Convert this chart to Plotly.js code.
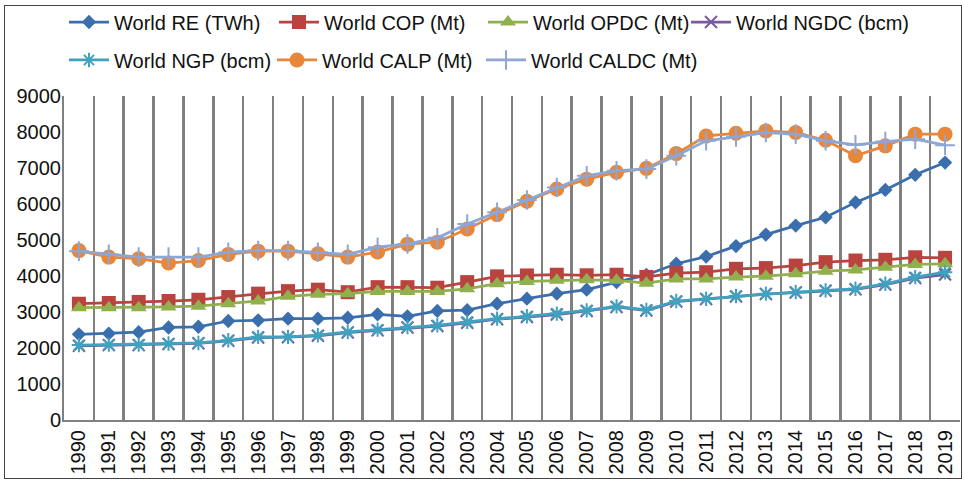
<!DOCTYPE html>
<html><head><meta charset="utf-8">
<script src="https://cdn.plot.ly/plotly-3.0.1.min.js"></script>
<style>
body{margin:0;padding:0;background:#fff;}
#chart{position:absolute;left:0;top:0;width:964px;height:483px;}
#frame{position:absolute;left:4px;top:5px;width:956px;height:472px;border:1px solid #444;pointer-events:none;}
</style></head>
<body>
<div id="chart"></div>
<div id="frame"></div>
<script>
const years = ['1990','1991','1992','1993','1994','1995','1996','1997','1998','1999','2000','2001','2002','2003','2004','2005','2006','2007','2008','2009','2010','2011','2012','2013','2014','2015','2016','2017','2018','2019'];
const worldRE = [2380,2400,2440,2570,2590,2750,2770,2815,2815,2840,2935,2880,3030,3050,3230,3370,3510,3620,3830,4030,4340,4540,4830,5150,5400,5630,6045,6390,6810,7150];
const worldCOP = [3230,3250,3280,3305,3340,3415,3510,3580,3620,3550,3690,3690,3675,3830,3990,4015,4035,4020,4035,3975,4080,4105,4200,4220,4290,4385,4430,4450,4520,4505];
const worldOPDC = [3120,3120,3120,3140,3160,3230,3305,3435,3490,3510,3570,3570,3570,3645,3785,3850,3880,3895,3880,3800,3920,3920,3970,3995,4060,4135,4170,4245,4320,4340];
const worldNGDC = [2060,2080,2080,2110,2130,2200,2290,2300,2340,2430,2490,2570,2610,2700,2800,2860,2930,3030,3140,3040,3290,3360,3430,3500,3540,3590,3630,3760,3940,4040];
const worldNGP = [2080,2095,2095,2125,2140,2215,2310,2310,2355,2445,2510,2585,2630,2725,2815,2880,2955,3045,3155,3060,3305,3370,3445,3510,3555,3600,3645,3785,3970,4105];
const worldCALP = [4705,4525,4480,4360,4430,4600,4690,4690,4615,4525,4665,4885,4940,5305,5705,6075,6415,6690,6880,6990,7400,7890,7965,8030,7985,7770,7340,7615,7940,7940];
const worldCALDC = [4690,4600,4525,4525,4525,4660,4705,4705,4660,4600,4800,4890,5060,5445,5770,6110,6460,6785,6925,6970,7340,7755,7865,7985,7940,7755,7645,7735,7800,7635];
const seriesNames = ['World RE (TWh)','World COP (Mt)','World OPDC (Mt)','World NGDC (bcm)','World NGP (bcm)','World CALP (Mt)','World CALDC (Mt)'];

function tr(name, y, color, symbol, size, open, legend){
  return {
    type:'scatter', mode:'lines+markers', x:years, y:y, name:name, legend:legend,
    line:{color:color, width:2.75},
    marker:{symbol:symbol, size:size, color:color, line:{color:color, width: open?2:0}}
  };
}
const data = [
  tr(seriesNames[0], worldRE, '#3B6EAC', 'diamond', 11, false, 'legend'),
  tr(seriesNames[1], worldCOP, '#B9443F', 'square', 14, false, 'legend2'),
  tr(seriesNames[2], worldOPDC, '#8FB04C', 'triangle-up', 14, false, 'legend3'),
  tr(seriesNames[3], worldNGDC, '#7A5A9E', 'x-thin-open', 12, true, 'legend4'),
  tr(seriesNames[4], worldNGP, '#3FA2BE', 'asterisk-open', 12, true, 'legend5'),
  tr(seriesNames[5], worldCALP, '#E8863A', 'circle', 15, false, 'legend6'),
  tr(seriesNames[6], worldCALDC, '#8DA6D4', 'cross-thin-open', 14, true, 'legend7')
];
const fnt = {family:'Arial, "Liberation Sans", sans-serif', size:20, color:'#111'};
const plotL = 64, plotW = 964-64-4;
function leg(px, y){
  return {orientation:'h', xanchor:'left', yanchor:'middle', font:fnt, itemwidth:40,
          bgcolor:'rgba(0,0,0,0)', x:(px-6-plotL)/plotW, y:y};
}
const r1 = 1.2246, r2 = 1.1077;
const layout = {
  width:964, height:483,
  margin:{l:64, r:4, t:95, b:63},
  paper_bgcolor:'#fff', plot_bgcolor:'#fff',
  font:fnt,
  showlegend:true,
  legend:leg(70,r1), legend2:leg(280,r1), legend3:leg(489,r1), legend4:leg(692,r1),
  legend5:leg(70,r2), legend6:leg(278,r2), legend7:leg(487,r2),
  xaxis:{type:'category', range:[-0.5,29.5], tickson:'boundaries', showgrid:true, gridcolor:'#808080', gridwidth:2.5,
         showline:true, linecolor:'#808080', linewidth:2, ticks:'', tickangle:-90, tickfont:fnt,
         zeroline:false, fixedrange:true},
  yaxis:{range:[0,9000], dtick:1000, showgrid:false, showline:true, linecolor:'#808080', linewidth:2,
         ticks:'', tickfont:fnt, zeroline:false, fixedrange:true, ticklabelstandoff:-3}
};
Plotly.newPlot('chart', data, layout, {displayModeBar:false, staticPlot:true});
</script>
</body></html>
